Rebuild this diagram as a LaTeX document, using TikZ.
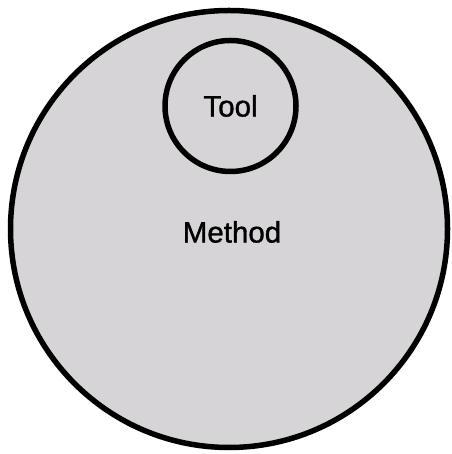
\documentclass[tikz,border=0pt]{standalone}
\usepackage{fontspec}
\setmainfont{Liberation Sans}[FakeBold=1.2]
\definecolor{setfill}{RGB}{214,212,214}
\begin{document}
\begin{tikzpicture}[x=1pt,y=1pt,
  setcircle/.style={circle, draw=black, line width=5.5pt, fill=setfill, inner sep=0pt},
  setlabel/.style={font=\fontsize{29.5}{32}\selectfont, text=black}]
\useasboundingbox (0,0) rectangle (451,454);
\node[setcircle, minimum size=437pt] (method) at (229,225) {};
\node[setcircle, minimum size=131pt] (tool) at (230.5,348) {};
\node[setlabel] (toollabel) at (tool.center) {Tool};
\node[setlabel] (methodlabel) at (232,222) {Method};
\end{tikzpicture}
\end{document}
